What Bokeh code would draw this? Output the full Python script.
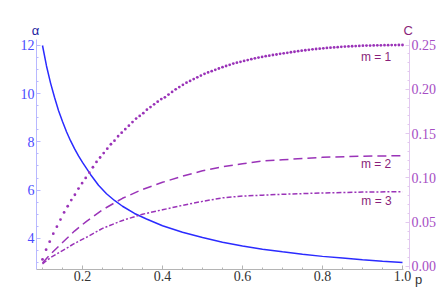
from bokeh.plotting import figure
from bokeh.models import Range1d, LinearAxis, FixedTicker, Label
from bokeh.embed import file_html
from bokeh.resources import INLINE

# ---- data ----
alpha_p = [0.10, 0.11, 0.12, 0.13, 0.14, 0.15, 0.16, 0.17, 0.18, 0.19, 0.20, 0.22, 0.24, 0.26,
           0.28, 0.30, 0.33, 0.36, 0.40, 0.45, 0.50, 0.55, 0.60, 0.65, 0.70, 0.75, 0.80, 0.85,
           0.90, 0.95, 1.00]
alpha_v = [12.0, 11.15, 10.45, 9.85, 9.3, 8.85, 8.42, 8.05, 7.72, 7.42, 7.15, 6.65, 6.2, 5.85,
           5.57, 5.33, 5.03, 4.8, 4.52, 4.25, 4.03, 3.84, 3.68, 3.55, 3.44, 3.34, 3.25, 3.18,
           3.11, 3.05, 3.0]

m1_p = [0.100, 0.109, 0.118, 0.127, 0.136, 0.145, 0.154, 0.163, 0.172, 0.181, 0.190, 0.199,
        0.208, 0.217, 0.226, 0.235, 0.244, 0.253, 0.262, 0.271, 0.280, 0.289, 0.298, 0.307,
        0.316, 0.325, 0.334, 0.343, 0.352, 0.361, 0.370, 0.379, 0.388, 0.397, 0.406, 0.415,
        0.424, 0.433, 0.442, 0.451, 0.460, 0.469, 0.478, 0.487, 0.496, 0.505, 0.514, 0.523,
        0.532, 0.541, 0.550, 0.559, 0.568, 0.577, 0.586, 0.595, 0.604, 0.613, 0.622, 0.631,
        0.640, 0.649, 0.658, 0.667, 0.676, 0.685, 0.694, 0.703, 0.712, 0.721, 0.730, 0.739,
        0.748, 0.757, 0.766, 0.775, 0.784, 0.793, 0.802, 0.811, 0.820, 0.829, 0.838, 0.847,
        0.856, 0.865, 0.874, 0.883, 0.892, 0.901, 0.910, 0.919, 0.928, 0.937, 0.946, 0.955,
        0.964, 0.973, 0.982, 0.991, 1.000]
m1_c = [0.008, 0.019, 0.028, 0.037, 0.045, 0.053, 0.061, 0.068, 0.075, 0.081, 0.088, 0.094,
        0.100, 0.106, 0.112, 0.118, 0.123, 0.128, 0.133, 0.138, 0.142, 0.147, 0.151, 0.155,
        0.159, 0.163, 0.167, 0.170, 0.173, 0.177, 0.180, 0.183, 0.186, 0.189, 0.191, 0.194,
        0.197, 0.200, 0.2025, 0.205, 0.2075, 0.2095, 0.2115, 0.2135, 0.2155, 0.2175, 0.219, 0.2205,
        0.222, 0.2235, 0.225, 0.2263, 0.2276, 0.229, 0.230, 0.231, 0.232, 0.233, 0.234, 0.235,
        0.2358, 0.2366, 0.2374, 0.238, 0.2387, 0.2393, 0.240, 0.2406, 0.2412, 0.2418, 0.2424, 0.243,
        0.2436, 0.2441, 0.2446, 0.2451, 0.2455, 0.2459, 0.2463, 0.2467, 0.247, 0.2473, 0.2476, 0.2479,
        0.2482, 0.2484, 0.2486, 0.2488, 0.249, 0.2492, 0.2493, 0.2494, 0.2495, 0.2496, 0.2497, 0.2498,
        0.2498, 0.2499, 0.2499, 0.2500, 0.2500]

m2_p = [0.10, 0.12, 0.15, 0.18, 0.21, 0.25, 0.30, 0.35, 0.40, 0.45, 0.50, 0.55, 0.60, 0.65,
        0.70, 0.80, 0.90, 1.00]
m2_c = [0.004, 0.014, 0.027, 0.040, 0.051, 0.064, 0.077, 0.087, 0.095, 0.102, 0.108, 0.1125,
        0.116, 0.119, 0.1205, 0.1232, 0.1245, 0.125]

m3_p = [0.10, 0.12, 0.15, 0.18, 0.21, 0.25, 0.30, 0.35, 0.40, 0.45, 0.50, 0.55, 0.60, 0.65,
        0.70, 0.80, 0.90, 1.00]
m3_c = [0.003, 0.010, 0.018, 0.026, 0.033, 0.043, 0.052, 0.059, 0.064, 0.069, 0.0735, 0.0775,
        0.0795, 0.0805, 0.0815, 0.083, 0.084, 0.0845]

x_ticks = [0.2, 0.4, 0.6, 0.8, 1.0]
x_tick_labels = ["0.2", "0.4", "0.6", "0.8", "1.0"]
x_minor = [0.1, 0.15, 0.2, 0.25, 0.3, 0.35, 0.4, 0.45, 0.5, 0.55, 0.6, 0.65, 0.7, 0.75, 0.8,
           0.85, 0.9, 0.95, 1.0]
a_ticks = [4, 6, 8, 10, 12]
a_tick_labels = ["4", "6", "8", "10", "12"]
a_minor = [3.0, 3.5, 4.0, 4.5, 5.0, 5.5, 6.0, 6.5, 7.0, 7.5, 8.0, 8.5, 9.0, 9.5, 10.0, 10.5,
           11.0, 11.5, 12.0]
c_ticks = [0.0, 0.05, 0.10, 0.15, 0.20, 0.25]
c_tick_labels = ["0.00", "0.05", "0.10", "0.15", "0.20", "0.25"]
c_minor = [i / 100 for i in range(0, 26)]

series_labels = ["m = 1", "m = 2", "m = 3"]
label_pos = [(0.934, 0.2364), (0.934, 0.1157), (0.935, 0.0735)]

# axis extents (data units)
P_LO, P_HI, P_LINE_END = 0.085, 1.0175, 1.003
A_LO, A_HI = 2.705, 12.249
C_LO, C_HI = -0.0034, 0.2562

BLUE = "#2b2bff"
PURPLE = "#9a33b8"
TEXT_PURPLE = "#8a1f7a"
SERIF = "Liberation Serif"
SANS = "Liberation Sans"

p = figure(width=436, height=289, output_backend="svg", toolbar_location=None,
           x_range=Range1d(-0.005, 1.085), y_range=Range1d(1.8755, 13.867),
           x_axis_type=None, y_axis_type=None,
           min_border_left=0, min_border_right=0, min_border_top=0, min_border_bottom=0)
p.extra_y_ranges = {"C": Range1d(-0.02596, 0.30023)}
p.outline_line_color = None
p.xgrid.visible = False
p.ygrid.visible = False
p.background_fill_color = "white"
p.border_fill_color = "white"


def style(ax, line_col, lab_col, standoff):
    ax.axis_line_color = line_col
    ax.major_tick_line_color = line_col
    ax.minor_tick_line_color = line_col
    ax.major_tick_in = 4
    ax.major_tick_out = 0
    ax.minor_tick_in = 2
    ax.minor_tick_out = 0
    ax.major_label_text_color = lab_col
    ax.major_label_text_font = SERIF
    ax.major_label_text_font_size = "14px"
    ax.major_label_standoff = standoff


xax = LinearAxis(ticker=FixedTicker(ticks=x_ticks, minor_ticks=x_minor),
                 major_label_overrides=dict(zip(x_ticks, x_tick_labels)),
                 fixed_location=A_LO, bounds=(P_LO, P_LINE_END))
style(xax, "#b4b4b4", "#333333", 1)
p.add_layout(xax, "below")

yax = LinearAxis(ticker=FixedTicker(ticks=a_ticks, minor_ticks=a_minor),
                 major_label_overrides=dict(zip(a_ticks, a_tick_labels)),
                 fixed_location=P_LO, bounds=(A_LO, A_HI))
style(yax, "#b8b8ff", "#4a4aff", 2)
p.add_layout(yax, "left")

cax = LinearAxis(y_range_name="C", ticker=FixedTicker(ticks=c_ticks, minor_ticks=c_minor),
                 major_label_overrides=dict(zip(c_ticks, c_tick_labels)),
                 fixed_location=P_HI, bounds=(C_LO, C_HI))
style(cax, "#e2c8ef", "#a64dc4", 2)
p.add_layout(cax, "right")

p.line(alpha_p, alpha_v, line_color=BLUE, line_width=1.5)
p.scatter(m1_p, m1_c, y_range_name="C", size=2.8, marker="circle",
          fill_color=PURPLE, line_color=None)
p.line(m2_p, m2_c, y_range_name="C", line_color=PURPLE, line_width=1.5, line_dash="9 5")
p.line(m3_p, m3_c, y_range_name="C", line_color=PURPLE, line_width=1.5, line_dash="5 2 2 2")

for txt, (lx, ly) in zip(series_labels, label_pos):
    p.add_layout(Label(x=lx, y=ly, y_range_name="C", text=txt, text_align="center",
                       text_baseline="middle", text_font=SANS,
                       text_font_size="12px", text_color=TEXT_PURPLE))

p.add_layout(Label(x=0.0825, y=12.62, text="α", text_align="center", text_baseline="middle",
                   text_font=SANS, text_font_size="13px", text_color="#1c1ca0"))
p.add_layout(Label(x=1.0143, y=12.62, text="C", text_align="center", text_baseline="middle",
                   text_font=SANS, text_font_size="13px", text_color=TEXT_PURPLE))
p.add_layout(Label(x=1.04, y=2.29, text="p", text_align="center", text_baseline="middle",
                   text_font=SANS, text_font_size="13px", text_color="#333333"))

open("out.html", "w").write(file_html(p, INLINE))
